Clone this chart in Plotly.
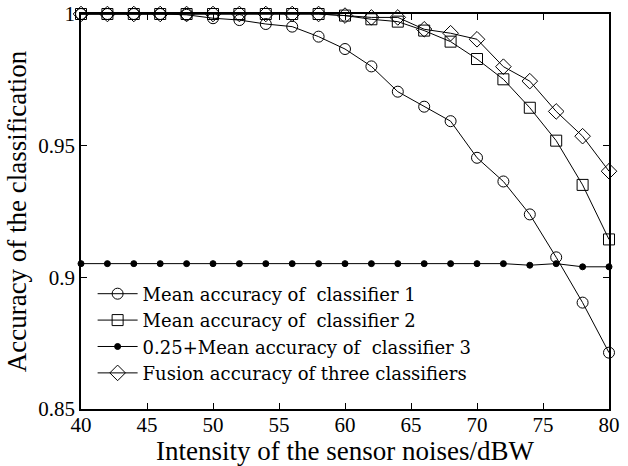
import plotly.graph_objects as go

x_vals = [40, 42, 44, 46, 48, 50, 52, 54, 56, 58, 60, 62, 64, 66, 68, 70, 72, 74, 76, 78, 80]

acc_c1 = [1.0, 1.0, 1.0, 1.0, 0.9997, 0.9984, 0.9977, 0.9962, 0.9952, 0.9914, 0.9867,
          0.9801, 0.9705, 0.9648, 0.9593, 0.9454, 0.9364, 0.9239, 0.9076, 0.8904, 0.8714]
acc_c2 = [1.0, 1.0, 1.0, 1.0, 1.0, 1.0, 1.0, 1.0, 1.0, 1.0, 0.9994,
          0.9980, 0.9971, 0.9937, 0.9895, 0.9829, 0.9752, 0.9644, 0.9519, 0.9351, 0.9144]
acc_c3 = [0.9052, 0.9052, 0.9052, 0.9052, 0.9052, 0.9052, 0.9052, 0.9052, 0.9052, 0.9052, 0.9052,
          0.9052, 0.9052, 0.9052, 0.9052, 0.9052, 0.9052, 0.9046, 0.9052, 0.9040, 0.9040]
acc_fusion = [1.0, 1.0, 1.0, 1.0, 1.0, 1.0, 1.0, 1.0, 1.0, 1.0, 0.9994,
              0.9987, 0.9987, 0.9942, 0.9927, 0.9904, 0.9800, 0.9745, 0.9630, 0.9536, 0.9403]

names = ["Mean accuracy of  classifier 1",
         "Mean accuracy of  classifier 2",
         "0.25+Mean accuracy of  classifier 3",
         "Fusion accuracy of three classifiers"]

x_ticks = [40, 45, 50, 55, 60, 65, 70, 75, 80]
y_ticks = [0.85, 0.9, 0.95, 1.0]
y_ticktext = ["0.85", "0.9", "0.95", "1"]

FONT = "Liberation Serif"
LEG_FONT = "DejaVu Serif"

fig = go.Figure()
specs = [
    (acc_c1, dict(symbol="circle-open", size=11)),
    (acc_c2, dict(symbol="square-open", size=11)),
    (acc_c3, dict(symbol="circle", size=6)),
    (acc_fusion, dict(symbol="diamond-open", size=12)),
]
for (vals, mk), nm in zip(specs, names):
    fig.add_trace(go.Scatter(
        x=x_vals, y=vals, name=nm, mode="lines+markers",
        line=dict(color="black", width=1),
        marker=dict(color="black", line=dict(color="black", width=1), **mk),
        cliponaxis=False,
    ))

axis_common = dict(
    showline=True, linecolor="black", linewidth=1.5, mirror="ticks",
    ticks="inside", ticklen=6, tickcolor="black", tickwidth=1,
    showgrid=False, zeroline=False, automargin=False,
    tickfont=dict(family=FONT, size=21, color="black"),
)

fig.update_layout(
    width=628, height=466,
    margin=dict(l=81, r=19, t=14, b=57),
    paper_bgcolor="white", plot_bgcolor="white",
    font=dict(family=FONT, color="black"),
    showlegend=True,
    legend=dict(
        x=0.022, y=0.338, xanchor="left", yanchor="top",
        bgcolor="rgba(0,0,0,0)", borderwidth=0,
        font=dict(family=LEG_FONT, size=18, color="black"),
        tracegroupgap=0, itemwidth=40,
    ),
    xaxis=dict(range=[40, 80], tickvals=x_ticks, ticklabelstandoff=-4,
               title=dict(text="Intensity of the sensor noises/dBW",
                          font=dict(family=FONT, size=27, color="black"), standoff=4),
               **axis_common),
    yaxis=dict(range=[0.85, 1.0], tickvals=y_ticks, ticktext=y_ticktext,
               title=dict(text="Accuracy of the classification",
                          font=dict(family=FONT, size=27, color="black"), standoff=4),
               **axis_common),
)

fig.write_html("out.html", config={"displayModeBar": False},
               post_script="document.body.style.margin='0';")
